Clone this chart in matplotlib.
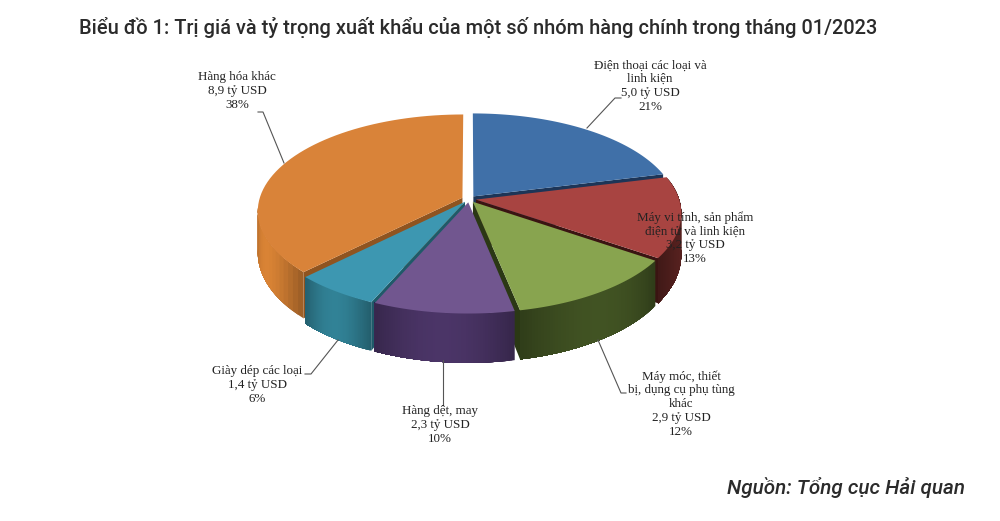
import matplotlib
matplotlib.use("Agg")
import matplotlib.pyplot as plt
import numpy as np

# data, clockwise from 12 o'clock
names = ["Điện thoại các loại và\nlinh kiện", "Máy vi tính, sản phẩm\nđiện tử và linh kiện",
         "Máy móc, thiết\nbị, dụng cụ phụ tùng\nkhác", "Hàng dệt, may", "Giày dép các loại", "Hàng hóa khác"]
values = [5.0, 3.2, 2.9, 2.3, 1.4, 8.9]
value_labels = ["5,0 tỷ USD", "3,2 tỷ USD", "2,9 tỷ USD", "2,3 tỷ USD", "1,4 tỷ USD", "8,9 tỷ USD"]
percents = ["21%", "13%", "12%", "10%", "6%", "38%"]

top_colors = ["#4070a8", "#a84441", "#88a44f", "#71568f", "#3d97b1", "#d98339"]
side_colors = ["#2a4a72", "#4e1e1c", "#3a4a1f", "#432f5c", "#2c7486", "#c2752f"]
wall_colors = ["#1d3557", "#3a1412", "#2b3815", "#33234a", "#1f5a69", "#8f5420"]

label_xy = [(650, 86), (695, 238), (681, 404), (440, 425), (257, 385), (237, 91)]
leaders = [[(587, 128), (615, 98), (621, 98)],
           None,
           [(598, 340), (621, 393), (626, 393)],
           [(443, 360), (443, 405)],
           [(338, 340), (311, 374), (305, 374)],
           [(284, 163), (263, 112), (258, 112)]]
draw_order = [5, 0, 1, 4, 2, 3]

CX, CY = 469, 199
RX, RY, K = 203, 95, 0.137
EXPLODE = 0.035


def project(u, v):
    d = 1 + K * v
    return CX + RX * u / d, CY - RY * v / d


def depth(v):
    return 40 - 9 * v


def shade(col, f):
    rgb = np.array(matplotlib.colors.to_rgb(col))
    return tuple(np.clip(rgb * f, 0, 1))


fig = plt.figure(figsize=(10, 5.21), dpi=100)
ax = fig.add_axes([0, 0, 1, 1])
ax.set_xlim(0, 1000)
ax.set_ylim(521, 0)
ax.axis("off")

angles = np.cumsum([0] + values) / sum(values) * 2 * np.pi

for i in draw_order:
    a0, a1 = angles[i], angles[i + 1]
    mid = (a0 + a1) / 2
    du, dv = EXPLODE * np.sin(mid), EXPLODE * np.cos(mid)
    t = np.linspace(a0, a1, 60)
    u = du + np.sin(t)
    v = dv + np.cos(t)
    x, y = project(u, v)
    ax0, ay0 = project(du, dv)
    z = draw_order.index(i) * 3

    # radial walls, only the ones that face the viewer
    for j, seen in [(0, np.sin(a0) < 0), (-1, np.sin(a1) > 0)]:
        if seen:
            wall_x = [ax0, x[j], x[j], ax0]
            wall_y = [ay0, y[j], y[j] + depth(v[j]), ay0 + depth(dv)]
            ax.fill(wall_x, wall_y, color=wall_colors[i], lw=0, zorder=z + 1)

    # outer wall, overlapping strips for the soft shading
    front = [j for j in range(len(t)) if np.cos(t[j]) <= -0.1 or i == 1]
    for n, j in enumerate(front):
        rest = np.array(front[n:])
        f = 0.82 + 0.3 * np.sin(np.pi * n / max(len(front) - 1, 1))
        qx = np.r_[x[rest], x[rest][::-1]]
        qy = np.r_[y[rest], (y[rest] + depth(v[rest]))[::-1]]
        ax.fill(qx, qy, color=shade(side_colors[i], f), lw=0, zorder=z + 2)

    ax.fill(np.r_[ax0, x], np.r_[ay0, y], color=top_colors[i], lw=0, zorder=z + 3)

for pts in leaders:
    if pts is not None:
        ax.plot(*zip(*pts), color="#555555", lw=0.8, zorder=30)

for i in range(len(values)):
    ax.text(label_xy[i][0], label_xy[i][1], names[i] + "\n" + value_labels[i] + "\n" + percents[i],
            ha="center", va="center", fontsize=9.4, family="Liberation Serif", color="#222222",
            linespacing=1.2, zorder=40)

ax.text(79, 28, "Biểu đồ 1: Trị giá và tỷ trọng xuất khẩu của một số nhóm hàng chính trong tháng 01/2023",
        fontsize=14.45, family="Roboto", weight="medium", color="#2b2b2b", va="center")
ax.text(965, 487, "Nguồn: Tổng cục Hải quan", fontsize=14.9, family="Roboto", style="italic",
        weight="medium", color="#2b2b2b", ha="right", va="center")

fig.savefig("out.png", dpi=100)
